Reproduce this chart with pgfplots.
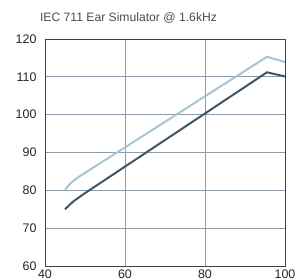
\documentclass[border=0pt]{standalone}
\usepackage{fontspec}
\setmainfont{Liberation Sans}
\usepackage{pgfplots}
\pgfplotsset{compat=1.18}
\definecolor{darkline}{HTML}{3F5565}
\definecolor{lightline}{HTML}{AAC3D1}
\definecolor{gridc}{HTML}{8C9CAB}
\begin{document}
\begin{tikzpicture}[x=1bp,y=1bp]
\useasboundingbox (-45,-14) rectangle (252,266);
\begin{axis}[
  at={(0,0)}, anchor=origin,
  scale only axis, width=240bp, height=227bp,
  xmin=40, xmax=100, ymin=60, ymax=120,
  xtick={40,60,80,100}, ytick={60,70,...,120},
  grid=major, major grid style={gridc, line width=0.9pt},
  axis line style={black!75, line width=0.8pt},
  tick style={draw=none},
  ticklabel style={font=\fontsize{12.5}{13}\selectfont, text=black!85},
  /pgf/number format/assume math mode=true,
  yticklabel style={xshift=-5bp},
  xticklabel style={yshift=0bp},
]
\addplot[lightline, line width=2pt] coordinates {(45,80.2) (46.5,82) (48.5,83.6) (95.5,115.3) (100,113.9)};
\addplot[darkline, line width=2pt] coordinates {(45,75) (47,77) (49.5,78.9) (95.5,111.2) (100,110.1)};
\end{axis}
\node[anchor=west, font=\fontsize{12.2}{14}\selectfont, text=black!70] at (-8.5,248) {IEC 711 Ear Simulator @ 1.6kHz};
\end{tikzpicture}
\end{document}
